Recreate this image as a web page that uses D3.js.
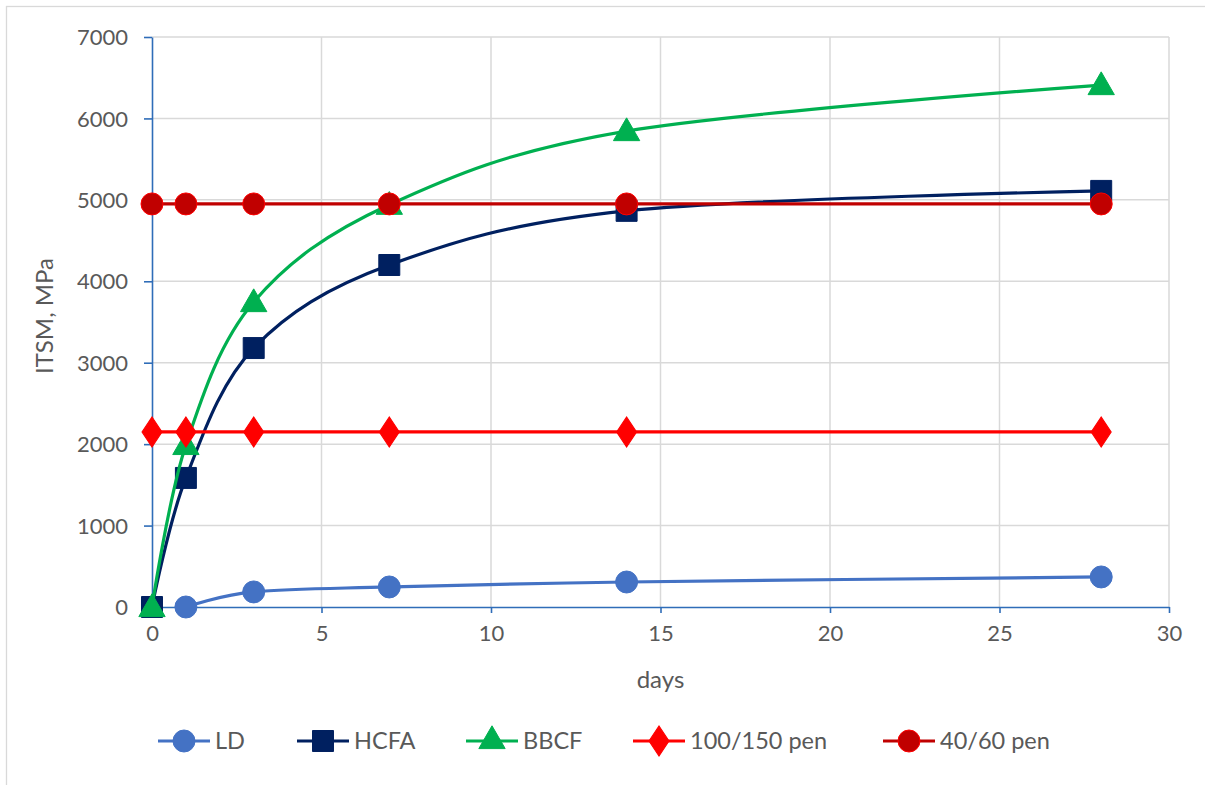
<!DOCTYPE html>
<html><head><meta charset="utf-8">
<script src="https://cdn.jsdelivr.net/npm/d3@7"></script>
<style>body{margin:0;background:#fff}text{font-family:Lato,"Open Sans",sans-serif;fill:#595959}</style>
</head><body><svg id="c" width="1205" height="785"></svg>
<script>
const days = [0, 1, 3, 7, 14, 28];
const ldDays = [1, 3, 7, 14, 28];
const LD = [0, 185, 246, 307, 369];
const HCFA = [0, 1585, 3180, 4200, 4865, 5110];
const BBCF = [0, 1990, 3745, 4940, 5845, 6410];
const pen100 = [2150, 2150, 2150, 2150, 2150, 2150];
const pen40 = [4950, 4950, 4950, 4950, 4950, 4950];
const xTicks = [0, 5, 10, 15, 20, 25, 30];
const yTicks = [0, 1000, 2000, 3000, 4000, 5000, 6000, 7000];
const seriesNames = ["LD", "HCFA", "BBCF", "100/150 pen", "40/60 pen"];

const series = [
  {name: seriesNames[0], x: ldDays, y: LD, color: "#4472C4", marker: "circle", fill: "#4472C4", stroke: "#4472C4"},
  {name: seriesNames[1], x: days, y: HCFA, color: "#002060", marker: "square", fill: "#002060", stroke: "#002060"},
  {name: seriesNames[2], x: days, y: BBCF, color: "#00B050", marker: "triangle", fill: "#00B050", stroke: "#00B050"},
  {name: seriesNames[3], x: days, y: pen100, color: "#FF0000", marker: "diamond", fill: "#FF0000", stroke: "#FF0000"},
  {name: seriesNames[4], x: days, y: pen40, color: "#C00000", marker: "circle", fill: "#C00000", stroke: "#FF0000"}
];

const FS = 22, FT = 24, FL = 23.5;
const svg = d3.select("#c");
const x = d3.scaleLinear().domain([0, 30]).range([152, 1169]);
const y = d3.scaleLinear().domain([0, 7000]).range([607, 37]);

svg.append("rect").attr("x", 6.5).attr("y", 6.5).attr("width", 1215).attr("height", 800)
  .attr("fill", "none").attr("stroke", "#d9d9d9").attr("stroke-width", 1.3);

// grid
svg.append("g").selectAll("line").data(yTicks.filter(d => d > 0)).join("line")
  .attr("x1", x(0)).attr("x2", x(30)).attr("y1", d => y(d)).attr("y2", d => y(d))
  .attr("stroke", "#d9d9d9").attr("stroke-width", 1.5);
svg.append("g").selectAll("line").data(xTicks.filter(d => d > 0)).join("line")
  .attr("y1", y(0)).attr("y2", y(7000)).attr("x1", d => x(d)).attr("x2", d => x(d))
  .attr("stroke", "#d9d9d9").attr("stroke-width", 1.5);

const axisColor = "#2F6DB8";
const gx = svg.append("g").attr("transform", `translate(0,${y(0)})`)
  .call(d3.axisBottom(x).tickValues(xTicks).tickFormat(d3.format("d")).tickSize(6).tickPadding(12).tickSizeOuter(0));
const gy = svg.append("g").attr("transform", `translate(${x(0)},0)`)
  .call(d3.axisLeft(y).tickValues(yTicks).tickFormat(d3.format("d")).tickSize(8).tickPadding(16).tickSizeOuter(0));
[gx, gy].forEach(g => {
  g.select(".domain").attr("stroke", axisColor).attr("stroke-width", 1.6);
  g.selectAll(".tick line").attr("stroke", axisColor).attr("stroke-width", 1.6);
  g.selectAll(".tick text").attr("font-size", FS).attr("fill", "#595959").attr("font-family", "Lato");
});
gy.selectAll(".tick text").attr("dy", "0.35em");

svg.append("text").attr("x", x(15)).attr("y", 688).attr("text-anchor", "middle").attr("font-size", FT).text("days");
svg.append("text").attr("transform", `translate(53,316) rotate(-90)`).attr("text-anchor", "middle").attr("font-size", FT).text("ITSM, MPa");

function markerPath(type) {
  const sym = {circle: d3.symbolCircle, square: d3.symbolSquare, triangle: d3.symbolTriangle, diamond: d3.symbolDiamond}[type];
  const size = {circle: 380, square: 440, triangle: 300, diamond: 260}[type];
  return d3.symbol(sym, size)();
}

const line = d3.line().curve(d3.curveCardinal.tension(0));
series.forEach(s => {
  const pts = s.x.map((d, i) => [x(d), y(s.y[i])]);
  const g = svg.append("g");
  g.append("path").attr("d", line(pts)).attr("fill", "none").attr("stroke", s.color).attr("stroke-width", 3.2);
  g.selectAll("path.m").data(pts).join("path").attr("class", "m")
    .attr("d", markerPath(s.marker))
    .attr("transform", d => `translate(${d[0]},${d[1] + (s.marker === "triangle" ? 2 : 0)})${s.marker === "diamond" ? " scale(1.15,1)" : ""}`)
    .attr("fill", s.fill).attr("stroke", s.stroke).attr("stroke-width", 1);
});

// legend
const legX = [184, 323, 492, 659, 909];
const lg = svg.append("g");
series.forEach((s, i) => {
  const cx = legX[i], cy = 741;
  lg.append("line").attr("x1", cx - 26).attr("x2", cx + 26).attr("y1", cy).attr("y2", cy)
    .attr("stroke", s.color).attr("stroke-width", 3.2);
  lg.append("path").attr("d", markerPath(s.marker))
    .attr("transform", `translate(${cx},${cy})${s.marker === "diamond" ? " scale(1.15,1)" : ""}`)
    .attr("fill", s.fill).attr("stroke", s.stroke);
  lg.append("text").attr("x", cx + 31).attr("y", cy).attr("dy", "0.35em").attr("font-size", FL).text(s.name);
});
</script></body></html>
